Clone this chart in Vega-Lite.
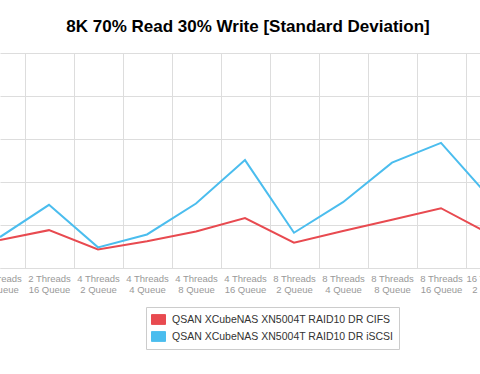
{
  "$schema": "https://vega.github.io/schema/vega-lite/v6.json",
  "autosize": {"type": "none"},
  "width": 490,
  "height": 215,
  "padding": {"left": 0, "right": -10, "top": 53, "bottom": 106},
  "background": "white",
  "title": {
    "text": "8K 70% Read 30% Write [Standard Deviation]",
    "font": "Liberation Sans",
    "fontSize": 17,
    "fontWeight": "bold",
    "color": "#000000",
    "anchor": "middle",
    "baseline": "alphabetic",
    "offset": 4,
    "dx": 3
  },
  "config": {
    "view": {"stroke": null},
    "font": "Liberation Sans"
  },
  "data": {
    "values": [
      {"config": "2 Threads 8 Queue", "series": "QSAN XCubeNAS XN5004T RAID10 DR CIFS", "value": 0.65},
      {"config": "2 Threads 16 Queue", "series": "QSAN XCubeNAS XN5004T RAID10 DR CIFS", "value": 0.88},
      {"config": "4 Threads 2 Queue", "series": "QSAN XCubeNAS XN5004T RAID10 DR CIFS", "value": 0.43},
      {"config": "4 Threads 4 Queue", "series": "QSAN XCubeNAS XN5004T RAID10 DR CIFS", "value": 0.62},
      {"config": "4 Threads 8 Queue", "series": "QSAN XCubeNAS XN5004T RAID10 DR CIFS", "value": 0.85},
      {"config": "4 Threads 16 Queue", "series": "QSAN XCubeNAS XN5004T RAID10 DR CIFS", "value": 1.16},
      {"config": "8 Threads 2 Queue", "series": "QSAN XCubeNAS XN5004T RAID10 DR CIFS", "value": 0.59},
      {"config": "8 Threads 4 Queue", "series": "QSAN XCubeNAS XN5004T RAID10 DR CIFS", "value": 0.86},
      {"config": "8 Threads 8 Queue", "series": "QSAN XCubeNAS XN5004T RAID10 DR CIFS", "value": 1.12},
      {"config": "8 Threads 16 Queue", "series": "QSAN XCubeNAS XN5004T RAID10 DR CIFS", "value": 1.39},
      {"config": "16 Threads 2 Queue", "series": "QSAN XCubeNAS XN5004T RAID10 DR CIFS", "value": 0.79},
      {"config": "2 Threads 8 Queue", "series": "QSAN XCubeNAS XN5004T RAID10 DR iSCSI", "value": 0.72},
      {"config": "2 Threads 16 Queue", "series": "QSAN XCubeNAS XN5004T RAID10 DR iSCSI", "value": 1.47},
      {"config": "4 Threads 2 Queue", "series": "QSAN XCubeNAS XN5004T RAID10 DR iSCSI", "value": 0.48},
      {"config": "4 Threads 4 Queue", "series": "QSAN XCubeNAS XN5004T RAID10 DR iSCSI", "value": 0.78},
      {"config": "4 Threads 8 Queue", "series": "QSAN XCubeNAS XN5004T RAID10 DR iSCSI", "value": 1.5},
      {"config": "4 Threads 16 Queue", "series": "QSAN XCubeNAS XN5004T RAID10 DR iSCSI", "value": 2.51},
      {"config": "8 Threads 2 Queue", "series": "QSAN XCubeNAS XN5004T RAID10 DR iSCSI", "value": 0.82},
      {"config": "8 Threads 4 Queue", "series": "QSAN XCubeNAS XN5004T RAID10 DR iSCSI", "value": 1.53},
      {"config": "8 Threads 8 Queue", "series": "QSAN XCubeNAS XN5004T RAID10 DR iSCSI", "value": 2.45},
      {"config": "8 Threads 16 Queue", "series": "QSAN XCubeNAS XN5004T RAID10 DR iSCSI", "value": 2.91},
      {"config": "16 Threads 2 Queue", "series": "QSAN XCubeNAS XN5004T RAID10 DR iSCSI", "value": 1.63}
    ]
  },
  "mark": {"type": "line", "strokeWidth": 2, "clip": true},
  "encoding": {
    "x": {
      "field": "config",
      "type": "ordinal",
      "sort": null,
      "scale": {"type": "point", "padding": 0},
      "axis": {
        "title": null,
        "labelAngle": 0,
        "labelExpr": "split(replace(datum.label, 's ', 's|'), '|')",
        "labelFont": "Liberation Sans",
        "labelFontSize": 9.5,
        "labelColor": "#999999",
        "labelLineHeight": 11,
        "labelBaseline": "top",
        "labelPadding": 5,
        "labelOverlap": false,
        "labelFlush": false,
        "labelBound": false,
        "ticks": false,
        "tickOffset": 24.5,
        "labelOffset": -24.5,
        "grid": true,
        "gridColor": "#dddddd",
        "gridWidth": 1,
        "domain": true,
        "domainColor": "#dddddd",
        "domainWidth": 1
      }
    },
    "y": {
      "field": "value",
      "type": "quantitative",
      "scale": {"domain": [0, 5], "nice": false, "zero": true},
      "axis": {
        "title": null,
        "labels": false,
        "ticks": false,
        "domain": false,
        "values": [0, 1, 2, 3, 4, 5],
        "grid": true,
        "gridColor": "#dddddd",
        "gridWidth": 1
      }
    },
    "color": {
      "field": "series",
      "type": "nominal",
      "scale": {"range": ["#e84a50", "#4bbdee"]},
      "legend": {
        "title": null,
        "orient": "none",
        "legendX": 146,
        "legendY": 254,
        "direction": "vertical",
        "padding": 5,
        "strokeColor": "#cccccc",
        "fillColor": "white",
        "labelFont": "Liberation Sans",
        "labelFontSize": 10.5,
        "labelColor": "#333333",
        "labelOffset": 6,
        "labelLimit": 0,
        "rowPadding": 2,
        "symbolType": "M-1,-0.7H1V0.7H-1Z",
        "symbolSize": 196,
        "symbolStrokeWidth": 1,
        "symbolStrokeColor": "#cccccc",
        "encode": {
          "symbols": {
            "update": {
              "fill": {"scale": "color", "field": "value"},
              "stroke": {"value": "#cccccc"},
              "strokeWidth": {"value": 1},
              "opacity": {"value": 1}
            }
          }
        }
      }
    }
  }
}
